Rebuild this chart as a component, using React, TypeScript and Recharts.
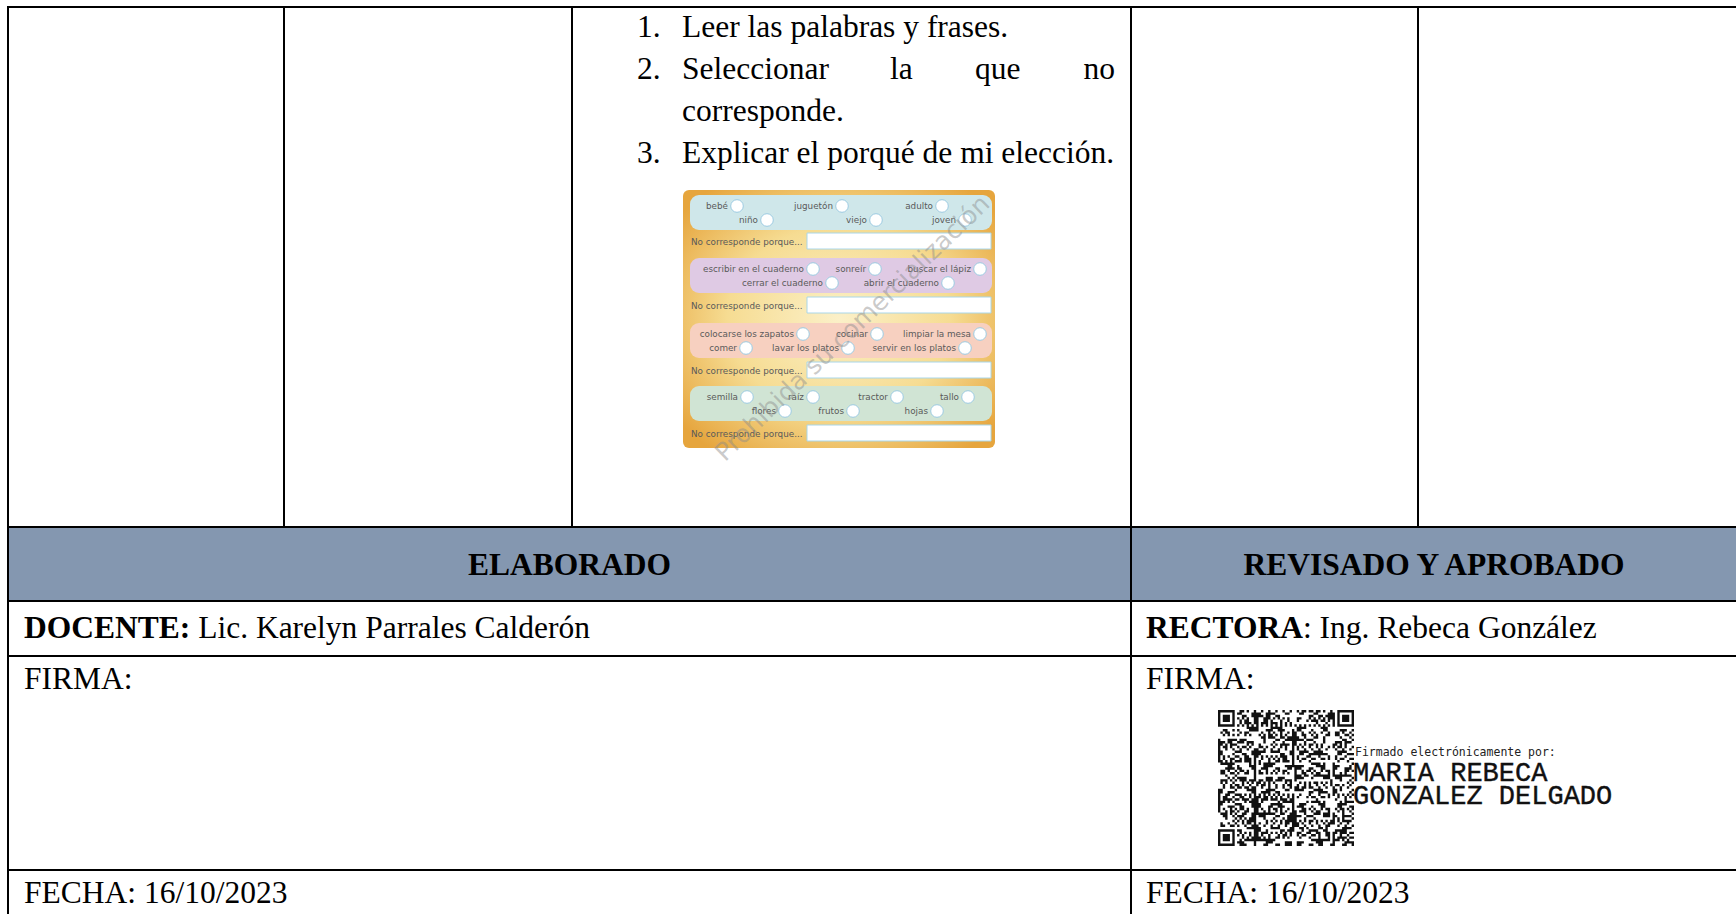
import { Surface, Layer, Rectangle, Dot, Text } from 'recharts';

const WIDTH = 1736;
const HEIGHT = 914;
const SERIF = '"Liberation Serif", "Times New Roman", serif';
const SANS = '"DejaVu Sans", Lato, sans-serif';
const FS = 31.5;

// pasos de la actividad
const steps = [
  'Leer las palabras y frases.',
  'Seleccionar la que no corresponde.',
  'Explicar el porqué de mi elección.',
];

// ficha: palabras de cada bloque (dos filas por bloque)
const bandRows = [
  [['bebé', 'juguetón', 'adulto'], ['niño', 'viejo', 'joven']],
  [['escribir en el cuaderno', 'sonreír', 'buscar el lápiz'], ['cerrar el cuaderno', 'abrir el cuaderno']],
  [['colocarse los zapatos', 'cocinar', 'limpiar la mesa'], ['comer', 'lavar los platos', 'servir en los platos']],
  [['semilla', 'raíz', 'tractor', 'tallo'], ['flores', 'frutos', 'hojas']],
];
const answerLabel = 'No corresponde porque...';
const watermark = 'Prohibida su comercialización';

// pie de tabla
const headers = ['ELABORADO', 'REVISADO Y APROBADO'];
const roles = [
  { bold: 'DOCENTE:', rest: ' Lic. Karelyn Parrales Calderón' },
  { bold: 'RECTORA', rest: ': Ing. Rebeca González' },
];
const firmaLabel = 'FIRMA:';
const fechas = ['FECHA: 16/10/2023', 'FECHA: 16/10/2023'];
const signer = ['Firmado electrónicamente por:', 'MARIA REBECA', 'GONZALEZ DELGADO'];

// layout of the worksheet picture (not data)
const bandColors = ['#cfe7ea', '#dfcae4', '#f7d0c0', '#d0e4d4'];
const bandTops = [195, 258, 323, 386];
const answerTops = [233, 297, 362, 425];
const circleX = [
  [[737, 842, 942], [767, 876, 965]],
  [[813, 875, 980], [832, 948]],
  [[803, 877, 980], [746, 848, 965]],
  [[747, 813, 897, 968], [785, 853, 937]],
];

// table grid
const colX = [8, 284, 572, 1131, 1418];
const rowY = [7, 527, 601, 656, 870];
const LINE = 2;

function qrPath(x0: number, y0: number, size: number) {
  const n = 57;
  const m = size / n;
  const finder = (r: number, c: number) => {
    const spots = [[0, 0], [0, n - 7], [n - 7, 0]];
    for (const [fr, fc] of spots) {
      const dr = r - fr;
      const dc = c - fc;
      if (dr >= -1 && dr <= 7 && dc >= -1 && dc <= 7) {
        if (dr < 0 || dr > 6 || dc < 0 || dc > 6) return 0;
        if (dr === 0 || dr === 6 || dc === 0 || dc === 6) return 1;
        if (dr >= 2 && dr <= 4 && dc >= 2 && dc <= 4) return 1;
        return 0;
      }
    }
    return -1;
  };
  let d = '';
  for (let r = 0; r < n; r++) {
    for (let c = 0; c < n; c++) {
      let on = finder(r, c);
      if (on < 0) {
        if (r === 6) on = c % 2 === 0 ? 1 : 0;
        else if (c === 6) on = r % 2 === 0 ? 1 : 0;
        else {
          const h = (r * 7919 + c * 104729 + r * c * 31 + ((r ^ c) * 17)) % 101;
          on = (h * 13 + r + c * 3) % 9 < 4 ? 1 : 0;
        }
      }
      if (on) d += `M${(x0 + c * m).toFixed(2)} ${(y0 + r * m).toFixed(2)}h${m.toFixed(2)}v${m.toFixed(2)}h-${m.toFixed(2)}z`;
    }
  }
  return d;
}

function Worksheet() {
  return (
    <Layer>
      <defs>
        <radialGradient id="paper" cx="50%" cy="50%" r="65%">
          <stop offset="0%" stopColor="#fbf0c8" />
          <stop offset="55%" stopColor="#f6dc92" />
          <stop offset="100%" stopColor="#e6a53d" />
        </radialGradient>
      </defs>
      <Rectangle x={683} y={190} width={312} height={258} radius={6} fill="url(#paper)" />
      {bandRows.map((rows, b) => (
        <Layer key={b}>
          <Rectangle x={690} y={bandTops[b]} width={302} height={35} radius={9} fill={bandColors[b]} />
          {rows.map((row, ri) =>
            row.map((w, wi) => {
              const cx = circleX[b][ri][wi];
              const cy = bandTops[b] + (ri === 0 ? 11 : 25);
              return (
                <Layer key={`${ri}-${wi}`}>
                  <Text x={cx - 9} y={cy + 3} textAnchor="end" fontFamily={SANS} fontSize={8.8} fill="#5a5a5a">
                    {w}
                  </Text>
                  <Dot cx={cx} cy={cy} r={6.3} fill="#ffffff" stroke="#9ccbe2" strokeWidth={1} />
                </Layer>
              );
            })
          )}
          <Text x={691} y={answerTops[b] + 12} fontFamily={SANS} fontSize={8.8} fill="#5a5a5a">
            {answerLabel}
          </Text>
          <Rectangle x={807} y={answerTops[b]} width={184} height={16} fill="#ffffff" stroke="#a9d6e8" strokeWidth={1} />
        </Layer>
      ))}
      <Text
        x={858}
        y={334}
        textAnchor="middle"
        angle={-44}
        fontFamily={SANS}
        fontSize={25}
        fill="#8a8a8a"
        fillOpacity={0.45}
      >
        {watermark}
      </Text>
    </Layer>
  );
}

export default function App() {
  const words = steps[1].split(' ');
  const justX = [682, 890, 975];
  return (
    <div style={{ position: 'fixed', left: 0, top: 0, width: WIDTH, height: HEIGHT, overflow: 'hidden', background: '#fff' }}>
      <Surface width={WIDTH} height={HEIGHT} viewBox={{ x: 0, y: 0, width: WIDTH, height: HEIGHT }}>
        <Rectangle x={0} y={0} width={WIDTH} height={HEIGHT} fill="#ffffff" />
        {/* header band */}
        <Rectangle x={colX[0]} y={rowY[1]} width={WIDTH} height={rowY[2] - rowY[1]} fill="#8497b0" />

        {/* steps */}
        <Layer>
          {[37, 79, 163].map((y, i) => (
            <Text key={i} x={637} y={y} fontFamily={SERIF} fontSize={FS} fill="#000">
              {`${i + 1}.`}
            </Text>
          ))}
          <Text x={682} y={37} fontFamily={SERIF} fontSize={FS} fill="#000">{steps[0]}</Text>
          {words.slice(0, 3).map((w, i) => (
            <Text key={w} x={justX[i]} y={79} fontFamily={SERIF} fontSize={FS} fill="#000">{w}</Text>
          ))}
          <Text x={1115} y={79} textAnchor="end" fontFamily={SERIF} fontSize={FS} fill="#000">{words[3]}</Text>
          <Text x={682} y={121} fontFamily={SERIF} fontSize={FS} fill="#000">{words.slice(4).join(' ')}</Text>
          <Text x={682} y={163} fontFamily={SERIF} fontSize={FS} fill="#000">{steps[2]}</Text>
        </Layer>

        <Worksheet />

        {/* footer */}
        <Text x={(colX[0] + colX[3]) / 2} y={575} textAnchor="middle" fontFamily={SERIF} fontSize={FS} fontWeight="bold" fill="#000">
          {headers[0]}
        </Text>
        <Text x={(colX[3] + WIDTH) / 2 + 0.5} y={575} textAnchor="middle" fontFamily={SERIF} fontSize={FS} fontWeight="bold" fill="#000">
          {headers[1]}
        </Text>
        {roles.map((r, i) => (
          <text key={r.bold} x={i === 0 ? 24 : 1146} y={638} fontFamily={SERIF} fontSize={FS} fill="#000">
            <tspan fontWeight="bold">{r.bold}</tspan>
            <tspan>{r.rest}</tspan>
          </text>
        ))}
        {[24, 1146].map((x) => (
          <Text key={x} x={x} y={689} fontFamily={SERIF} fontSize={FS} fill="#000">{firmaLabel}</Text>
        ))}
        {fechas.map((f, i) => (
          <Text key={i} x={i === 0 ? 24 : 1146} y={903} fontFamily={SERIF} fontSize={FS} fill="#000">{f}</Text>
        ))}

        {/* electronic signature */}
        <path d={qrPath(1218, 710, 136)} fill="#111" />
        <Text x={1355} y={756} fontFamily='"DejaVu Sans Mono", monospace' fontSize={11.5} fill="#222">{signer[0]}</Text>
        <Text x={1353} y={781} fontFamily='"Liberation Mono", monospace' fontSize={27} fill="#111" stroke="#111" strokeWidth={0.4}>{signer[1]}</Text>
        <Text x={1353} y={804} fontFamily='"Liberation Mono", monospace' fontSize={27} fill="#111" stroke="#111" strokeWidth={0.4}>{signer[2]}</Text>

        {/* grid lines */}
        <Layer>
          <Rectangle x={colX[0] - 1} y={rowY[0] - 1} width={WIDTH} height={LINE} fill="#000" />
          <Rectangle x={colX[0] - 1} y={rowY[0] - 1} width={LINE} height={HEIGHT} fill="#000" />
          {colX.slice(1).map((x) => (
            <Rectangle key={x} x={x - 1} y={rowY[0]} width={LINE} height={rowY[1] - rowY[0]} fill="#000" />
          ))}
          {rowY.slice(1).map((y) => (
            <Rectangle key={y} x={colX[0]} y={y - 1} width={WIDTH} height={LINE} fill="#000" />
          ))}
          <Rectangle x={colX[3] - 1} y={rowY[1]} width={LINE} height={HEIGHT - rowY[1]} fill="#000" />
        </Layer>
      </Surface>
    </div>
  );
}
